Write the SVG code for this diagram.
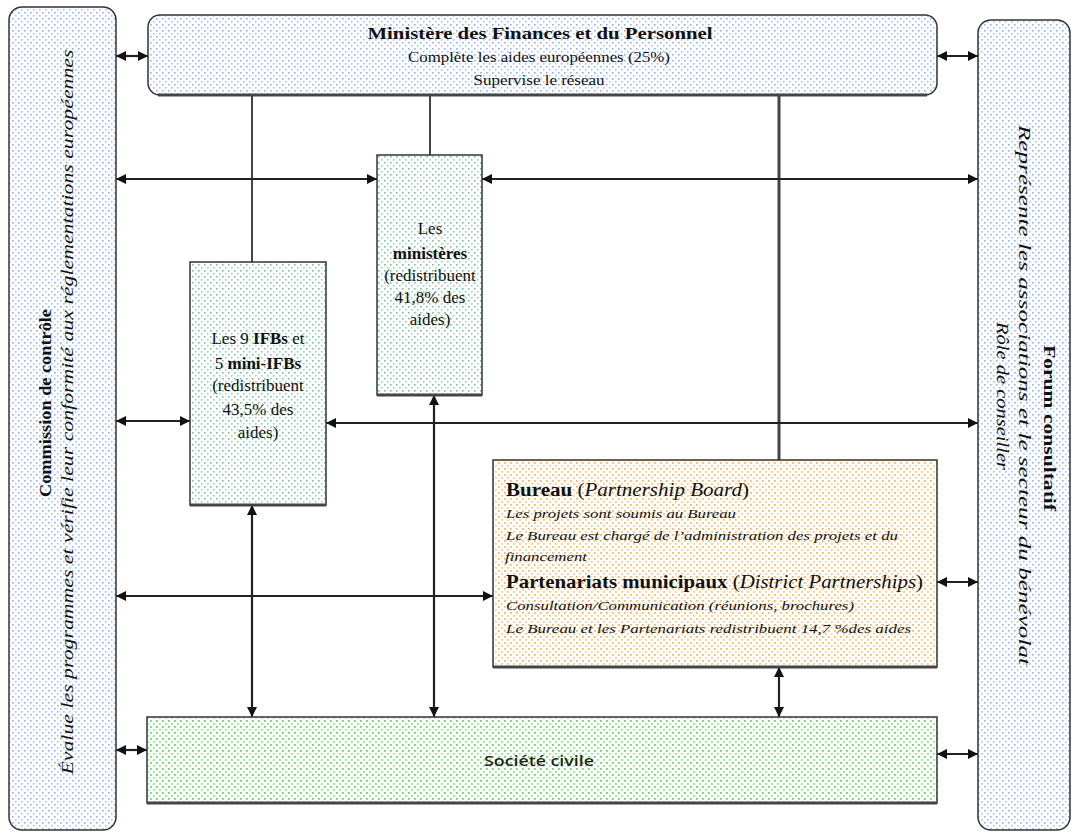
<svg xmlns="http://www.w3.org/2000/svg" width="1075" height="834" viewBox="0 0 1075 834">
<style>
.box{stroke:#333;stroke-width:1.5}
.sh{stroke:#444;stroke-width:3;fill:none}
.lg{stroke:#444;stroke-width:2;fill:none}
.da{stroke:#222;stroke-width:2.2;fill:none;marker-start:url(#ah);marker-end:url(#ah)}
.serif{font-family:"Liberation Serif","Times New Roman",serif;fill:#111}
.b{font-weight:bold}
.i{font-style:italic}
</style>
<defs>
<pattern id="pb" width="6" height="6" patternUnits="userSpaceOnUse"><rect width="6" height="6" fill="#fff"/><rect x="0" y="0" width="1.6" height="1.6" fill="#8fb0f2"/><rect x="3" y="3" width="1.6" height="1.6" fill="#a8c2f5"/></pattern>
<pattern id="pg" width="6" height="6" patternUnits="userSpaceOnUse"><rect width="6" height="6" fill="#fff"/><rect x="0" y="0" width="1.6" height="1.6" fill="#7cc0a0"/><rect x="3" y="3" width="1.6" height="1.6" fill="#a0d2b8"/></pattern>
<pattern id="po" width="6" height="6" patternUnits="userSpaceOnUse"><rect width="6" height="6" fill="#fff"/><rect x="0" y="0" width="1.8" height="1.8" fill="#f7b860"/><rect x="3" y="3" width="1.8" height="1.8" fill="#f9cc88"/></pattern>
<pattern id="pv" width="6" height="6" patternUnits="userSpaceOnUse"><rect width="6" height="6" fill="#fff"/><rect x="0" y="0" width="1.8" height="1.8" fill="#5fdc5f"/><rect x="3" y="3" width="1.8" height="1.8" fill="#8fe88f"/></pattern>
<marker id="ah" viewBox="0 0 10 10" refX="10" refY="5" markerWidth="10" markerHeight="10" markerUnits="userSpaceOnUse" orient="auto-start-reverse"><path d="M0,0 L10,5 L0,10 z" fill="#111"/></marker>
</defs>

<g id="connectors">
<path class="lg" d="M252,95 V262"/>
<path class="lg" d="M430,95 V155"/>
<path class="lg" d="M779,95 V460" style="stroke-width:3"/>
<path class="da" d="M116,56 H148"/>
<path class="da" d="M937,56 H978"/>
<path class="da" d="M116,179 H377"/>
<path class="da" d="M482,179 H978"/>
<path class="da" d="M116,421 H190"/>
<path class="da" d="M326,423 H978"/>
<path class="da" d="M116,596 H493"/>
<path class="da" d="M937,582 H978"/>
<path class="da" d="M116,750 H147"/>
<path class="da" d="M937,754 H978"/>
<path class="da" d="M252,505 V717"/>
<path class="da" d="M434,395 V717"/>
<path class="da" d="M779,667 V717"/>
</g>

<g id="commission">
<rect class="box" x="9" y="7" width="107" height="823" rx="13" fill="url(#pb)"/>
<text class="serif b" font-size="17" transform="translate(51,403) rotate(-90)" text-anchor="middle" textLength="188" lengthAdjust="spacingAndGlyphs">Commission de contrôle</text>
<text class="serif i" font-size="16.5" transform="translate(73,412) rotate(-90)" text-anchor="middle" textLength="725" lengthAdjust="spacingAndGlyphs">Évalue les programmes et vérifie leur conformité aux réglementations européennes</text>
</g>

<g id="forum">
<rect class="box" x="978" y="20" width="92" height="810" rx="13" fill="url(#pb)"/>
<text class="serif b" font-size="17" transform="translate(1044,428) rotate(90)" text-anchor="middle" textLength="166" lengthAdjust="spacingAndGlyphs">Forum consultatif</text>
<text class="serif i" font-size="16.5" transform="translate(1019,395) rotate(90)" text-anchor="middle" textLength="540" lengthAdjust="spacingAndGlyphs">Représente les associations et le secteur du bénévolat</text>
<text class="serif i" font-size="16.5" transform="translate(997,396) rotate(90)" text-anchor="middle" textLength="148" lengthAdjust="spacingAndGlyphs">Rôle de conseiller</text>
</g>

<g id="ministere-finances">
<rect class="box" x="148" y="15" width="789" height="80" rx="12" fill="url(#pb)"/>
<path class="sh" d="M158,95 H927"/>
<text class="serif b" font-size="17" x="540" y="39" text-anchor="middle" textLength="345" lengthAdjust="spacingAndGlyphs">Ministère des Finances et du Personnel</text>
<text class="serif" font-size="14" x="539" y="62" text-anchor="middle" textLength="262" lengthAdjust="spacingAndGlyphs">Complète les aides européennes (25%)</text>
<text class="serif" font-size="14" x="539" y="85" text-anchor="middle" textLength="131" lengthAdjust="spacingAndGlyphs">Supervise le réseau</text>
</g>

<g id="ministeres">
<rect class="box" x="377" y="155" width="105" height="240" fill="url(#pg)"/>
<path class="sh" d="M377,395 H482"/>
<text class="serif" font-size="17" text-anchor="middle"><tspan x="430" y="234">Les</tspan><tspan x="430" y="259" class="b">ministères</tspan><tspan x="430" y="281">(redistribuent</tspan><tspan x="430" y="303">41,8% des</tspan><tspan x="430" y="325">aides)</tspan></text>
</g>

<g id="ifbs">
<rect class="box" x="190" y="262" width="136" height="243" fill="url(#pg)"/>
<path class="sh" d="M190,505 H326"/>
<text class="serif" font-size="17" text-anchor="middle"><tspan x="258" y="344">Les 9 <tspan class="b">IFBs</tspan> et</tspan><tspan x="258" y="369">5 <tspan class="b">mini-IFBs</tspan></tspan><tspan x="258" y="391">(redistribuent</tspan><tspan x="258" y="415">43,5% des</tspan><tspan x="258" y="438">aides)</tspan></text>
</g>

<g id="bureau">
<rect class="box" x="493" y="460" width="444" height="207" fill="url(#po)"/>
<path class="sh" d="M493,667 H937"/>
<text class="serif" font-size="18" x="506" y="496" textLength="243" lengthAdjust="spacingAndGlyphs"><tspan class="b">Bureau</tspan> (<tspan class="i">Partnership Board</tspan>)</text>
<text class="serif i" font-size="13" x="506" y="518" textLength="230" lengthAdjust="spacingAndGlyphs">Les projets sont soumis au Bureau</text>
<text class="serif i" font-size="13" x="506" y="540" textLength="392" lengthAdjust="spacingAndGlyphs">Le Bureau est chargé de l’administration des projets et du</text>
<text class="serif i" font-size="13" x="505" y="561" textLength="82" lengthAdjust="spacingAndGlyphs">financement</text>
<text class="serif" font-size="18" x="506" y="588" textLength="417" lengthAdjust="spacingAndGlyphs"><tspan class="b">Partenariats municipaux</tspan> (<tspan class="i">District Partnerships</tspan>)</text>
<text class="serif i" font-size="13" x="506" y="610" textLength="348" lengthAdjust="spacingAndGlyphs">Consultation/Communication (réunions, brochures)</text>
<text class="serif i" font-size="13" x="506" y="633" textLength="405" lengthAdjust="spacingAndGlyphs">Le Bureau et les Partenariats redistribuent 14,7 %des aides</text>
</g>

<g id="societe-civile">
<rect class="box" x="147" y="717" width="790" height="86" fill="url(#pv)"/>
<path class="sh" d="M147,803 H937"/>
<text x="539" y="766" text-anchor="middle" font-family="'Open Sans','Liberation Sans',sans-serif" font-weight="600" font-size="15" fill="#222" textLength="110" lengthAdjust="spacingAndGlyphs">Société civile</text>
</g>
</svg>
